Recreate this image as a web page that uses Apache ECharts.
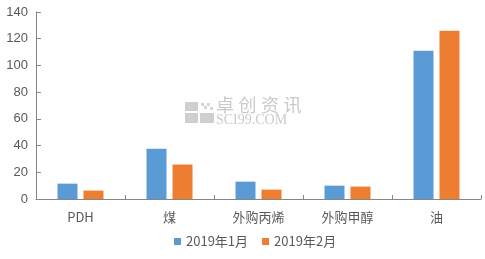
<!DOCTYPE html>
<html><head><meta charset="utf-8">
<script src="https://cdn.jsdelivr.net/npm/echarts@6/dist/echarts.min.js"></script>
<style>html,body{margin:0;padding:0;background:#fff}#c{width:485px;height:259px}</style>
</head><body><div id="c"></div>
<script>
const categories = ['PDH', '煤', '外购丙烯', '外购甲醇', '油'];
const seriesNames = ['2019年1月', '2019年2月'];
const jan = [11.5, 37.7, 13, 10, 111];
const feb = [6.3, 25.8, 7, 9.3, 126];
const yTicks = [0, 20, 40, 60, 80, 100, 120, 140];

const chart = echarts.init(document.getElementById('c'));
const font = '"Microsoft YaHei","Noto Sans CJK SC",sans-serif';
const wmColor = '#cbcbcb';
const wmChars = '卓创资讯'.split('').map((ch, i) => ({
  type: 'text', x: 216 + i * 22.5, y: 96, silent: true,
  style: {text: ch, fill: wmColor, fontSize: 18, fontFamily: font, verticalAlign: 'top', align: 'left'}
}));
chart.setOption({
  animation: false,
  textStyle: {fontFamily: font},
  grid: {left: 36, right: 4, top: 12, bottom: 60, containLabel: false},
  legend: {
    data: seriesNames, bottom: 6, left: 169, itemWidth: 7, itemHeight: 7, itemGap: 14,
    icon: 'rect', textStyle: {color: '#595959', fontSize: 13, fontFamily: font}
  },
  xAxis: {
    type: 'category', data: categories,
    axisLine: {lineStyle: {color: '#868686', width: 1}},
    axisTick: {show: true, inside: true, alignWithLabel: false, length: 4, lineStyle: {color: '#868686'}},
    axisLabel: {color: '#595959', fontSize: 13, margin: 12, fontFamily: font}
  },
  yAxis: {
    type: 'value', min: yTicks[0], max: yTicks[yTicks.length - 1], interval: 20,
    axisLine: {show: true, lineStyle: {color: '#868686'}},
    axisTick: {show: true, length: 5, inside: true, lineStyle: {color: '#868686'}},
    splitLine: {show: false},
    axisLabel: {color: '#595959', fontSize: 13, margin: 8, fontFamily: 'Arial, "Liberation Sans", sans-serif'}
  },
  series: [
    {name: seriesNames[0], type: 'bar', data: jan, barWidth: 20, barGap: '30%', itemStyle: {color: '#5B9BD5'}},
    {name: seriesNames[1], type: 'bar', data: feb, barWidth: 20, itemStyle: {color: '#ED7D31'}}
  ],
  graphic: [
    {type: 'rect', silent: true, shape: {x: 185, y: 102, width: 13, height: 9}, style: {fill: '#cfcfcf'}},
    {type: 'rect', silent: true, shape: {x: 185, y: 113, width: 13, height: 10}, style: {fill: '#cfcfcf'}},
    {type: 'rect', silent: true, shape: {x: 200, y: 113, width: 14, height: 10}, style: {fill: '#cfcfcf'}},
    {type: 'rect', silent: true, shape: {x: 201, y: 103, width: 3, height: 3}, style: {fill: '#d6d6d6'}},
    {type: 'rect', silent: true, shape: {x: 207, y: 103, width: 3, height: 3}, style: {fill: '#d6d6d6'}},
    {type: 'rect', silent: true, shape: {x: 204, y: 106, width: 3, height: 3}, style: {fill: '#d6d6d6'}},
    {type: 'rect', silent: true, shape: {x: 210, y: 107, width: 3, height: 3}, style: {fill: '#d6d6d6'}},
    ...wmChars,
    {type: 'text', silent: true, x: 216, y: 113, style: {text: 'SCI99.COM', fill: wmColor, fontSize: 14, fontFamily: '"Liberation Serif", serif', verticalAlign: 'top', align: 'left'}}
  ]
});
</script></body></html>
